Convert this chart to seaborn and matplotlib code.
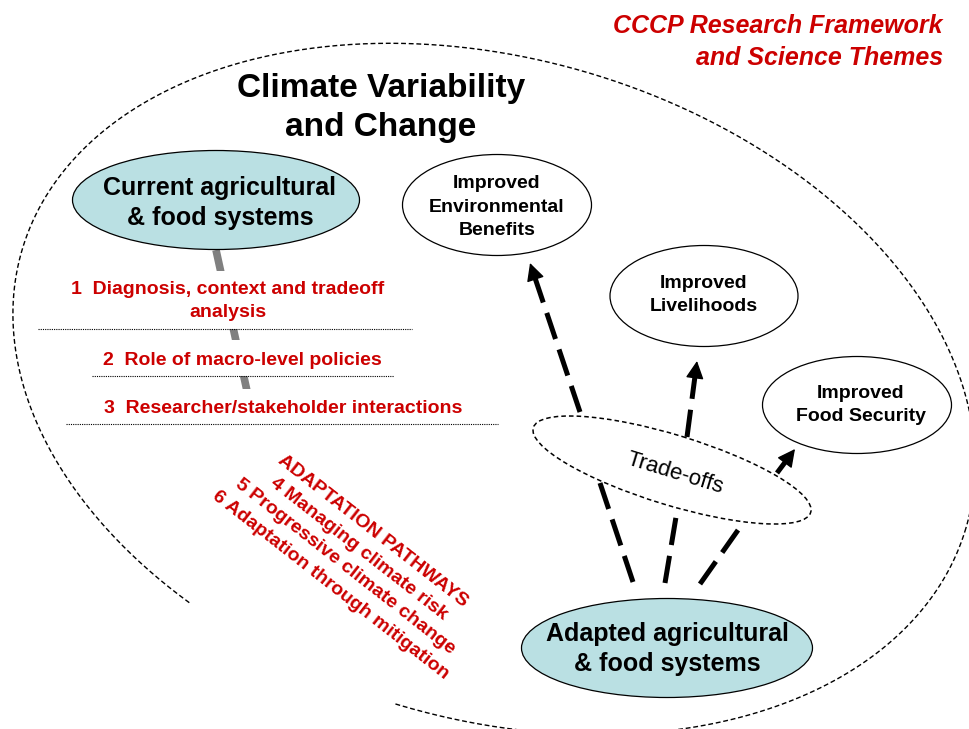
import numpy as np
import matplotlib
matplotlib.use("Agg")
from matplotlib import pyplot as plt
from matplotlib.patches import Ellipse, Rectangle
import seaborn as sns

# texts
title_lines = ["CCCP Research Framework", "and Science Themes"]
outer_label = ["Climate Variability", "and Change"]
node_labels = ["Current agricultural\n& food systems",
               "Improved\nEnvironmental\nBenefits",
               "Improved\nLivelihoods",
               "Improved\nFood Security",
               "Adapted agricultural\n& food systems"]
theme_items = ["1  Diagnosis, context and tradeoff\nanalysis",
               "2  Role of macro-level policies",
               "3  Researcher/stakeholder interactions"]
pathway_lines = ["ADAPTATION PATHWAYS",
                 "4 Managing climate risk",
                 "5 Progressive climate change",
                 "6 Adaptation through mitigation"]
tradeoff_label = "Trade-offs"

# layout (pixel coords of the picture)
node_xy = [(216, 200), (497, 205), (704, 296), (857, 405), (667, 648)]
node_wh = [(287, 99), (189, 101), (188, 101), (189, 97), (291, 99)]
node_fill = ["#bae0e3", "white", "white", "white", "#bae0e3"]
node_text_xy = [(220, 203), (497, 207), (704, 295), (861, 405), (667, 649)]
node_fs = [18, 14, 14, 14, 18]
node_ls = [1.28, 1.48, 1.48, 1.48, 1.28]

item_text_xy = [(228, 301), (242, 360), (283, 408)]
item_boxes = [(38, 412, 271, 329), (92, 394, 340, 376), (66, 498, 389, 424)]

arrows_up = [((580, 412), (530, 263)), ((687, 437), (697, 361)),
             ((777, 473), (795, 449))]
links = [((633, 582), (600, 483)), ((665, 583), (677, 511)),
         ((700, 584), (743, 523))]

red = "#cc0000"
sns.set_theme(style="white")
plt.rcParams["font.family"] = ["Liberation Sans", "DejaVu Sans"]

fig = plt.figure(figsize=(9.69, 7.29), dpi=100)
ax = fig.add_axes([0, 0, 1, 1])
ax.set_xlim(0, 969)
ax.set_ylim(729, 0)
ax.axis("off")

# big outer ellipse, partly hidden at lower left
cx, cy, a, b, phi = 494, 389, 492, 330, np.deg2rad(16.4)
t = np.linspace(0, 2 * np.pi, 900)
ex = cx + a * np.cos(t) * np.cos(phi) - b * np.sin(t) * np.sin(phi)
ey = cy + a * np.cos(t) * np.sin(phi) + b * np.sin(t) * np.cos(phi)
hide = (ex > 190) & (ex < 392) & (ey > 500)
ex[hide] = np.nan
ax.plot(ex, ey, color="black", lw=1.0, ls=(0, (3.5, 2)), zorder=1)

# titles
ax.text(943, 42, "\n".join(title_lines), color=red, fontsize=18,
        fontweight="bold", fontstyle="italic", ha="right", va="center",
        multialignment="right", linespacing=1.37)
ax.text(381, 108, "\n".join(outer_label), color="black", fontsize=24,
        fontweight="bold", ha="center", va="center", linespacing=1.35)

# gray connector behind theme items
ax.plot([216, 249], [250, 400], color="#808080", lw=5.5,
        solid_capstyle="butt", zorder=2)

for (x0, x1, y0, y1), (tx, ty), txt in zip(item_boxes, item_text_xy,
                                            theme_items):
    ax.add_patch(Rectangle((x0, y0), x1 - x0, y1 - y0, facecolor="white",
                           edgecolor="none", zorder=3))
    ax.plot([x0, x1], [y1, y1], color="black", lw=0.8, ls=(0, (1, 1)),
            zorder=4)
    ax.text(tx, ty, txt, color=red, fontsize=14, fontweight="bold",
            ha="center", va="center", linespacing=1.45, zorder=5)

# nodes
for (x, y), (w, h), fc in zip(node_xy, node_wh, node_fill):
    ax.add_patch(Ellipse((x, y), w, h, facecolor=fc, edgecolor="black",
                         lw=0.9, zorder=6))
for (x, y), txt, fs, ls in zip(node_text_xy, node_labels, node_fs, node_ls):
    ax.text(x, y, txt, color="black", fontsize=fs, fontweight="bold",
            ha="center", va="center", linespacing=ls, zorder=7)

# trade-offs ellipse
ax.add_patch(Ellipse((672, 470), 290, 70, angle=17, facecolor="none",
                     edgecolor="black", lw=1.1, ls=(0, (3, 2)), zorder=6))
ax.text(675, 473, tradeoff_label, color="black", fontsize=16, rotation=-17,
        rotation_mode="anchor", ha="center", va="center", zorder=7)

# dashed arrows
dash = (0, (5.5, 2.2))
for (x0, y0), (x1, y1) in arrows_up:
    d = np.hypot(x1 - x0, y1 - y0)
    ux, uy = (x1 - x0) / d, (y1 - y0) / d
    bx, by = x1 - 13 * ux, y1 - 13 * uy
    ax.plot([x0, bx], [y0, by], color="black", lw=3.6, ls=dash,
            solid_capstyle="butt", zorder=8)
    ax.annotate("", xy=(x1, y1), xytext=(bx - 2 * ux, by - 2 * uy),
                arrowprops=dict(arrowstyle="-|>,head_length=0.55,head_width=0.28",
                                mutation_scale=20, color="black", lw=1,
                                shrinkA=0, shrinkB=0), zorder=8)
for (x0, y0), (x1, y1) in links:
    ax.plot([x0, x1], [y0, y1], color="black", lw=3.6, ls=dash, zorder=8)

# adaptation pathways block
ax.text(352, 558, "\n".join(pathway_lines), color=red, fontsize=14,
        fontweight="bold", rotation=-38, rotation_mode="anchor",
        ha="center", va="center", multialignment="center",
        linespacing=1.45, zorder=9)

fig.savefig("out.png", dpi=100)
